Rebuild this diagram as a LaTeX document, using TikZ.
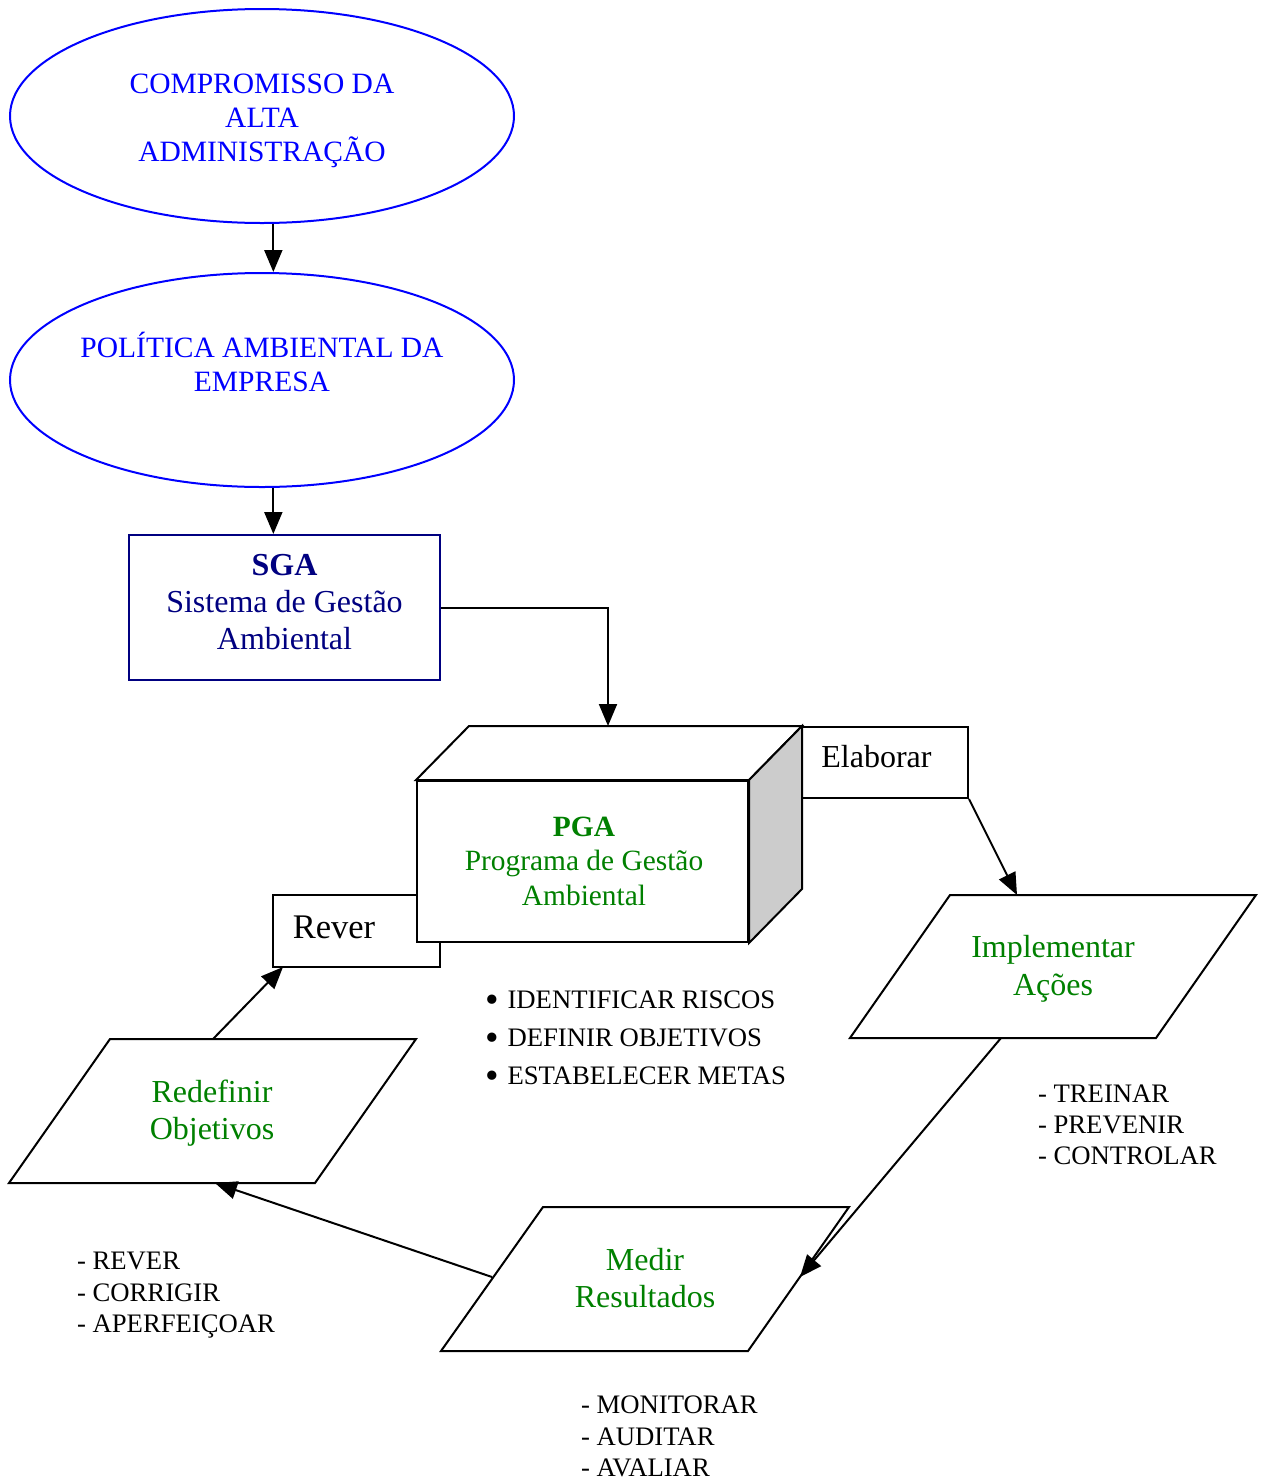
\documentclass[tikz,border=0pt]{standalone}
\usepackage{fontspec}
\setmainfont{Liberation Serif}
\usetikzlibrary{shapes.geometric,arrows.meta,calc}
\definecolor{tblue}{RGB}{0,0,255}
\definecolor{tnavy}{RGB}{0,0,128}
\definecolor{tgreen}{RGB}{0,128,0}
\definecolor{tgray}{RGB}{204,204,204}
\newcommand{\bigbul}{\raisebox{-4pt}{\scalebox{1.45}{•}}}
\begin{document}
\begin{tikzpicture}[x=1pt,y=-1pt,line width=2pt,
  arr/.style={-{Triangle[length=22pt,width=18pt]},line width=2pt},
  ell/.style={ellipse,draw=tblue,line width=2pt,minimum width=504pt,minimum height=214pt,inner sep=0pt},
  bluetxt/.style={text=tblue,font=\fontsize{29.5}{34}\selectfont,anchor=base,inner sep=0pt},
  navytxt/.style={text=tnavy,font=\fontsize{32}{37}\selectfont,anchor=base,inner sep=0pt},
  greentxt/.style={text=tgreen,font=\fontsize{32}{37}\selectfont,anchor=base,inner sep=0pt},
  pgatxt/.style={text=tgreen,font=\fontsize{29.4}{35}\selectfont,anchor=base,inner sep=0pt},
  blacktxt/.style={font=\fontsize{32}{37}\selectfont,anchor=base,inner sep=0pt},
  listtxt/.style={font=\fontsize{26.7}{31}\selectfont,anchor=base west,inner sep=0pt},
  plainbox/.style={draw,line width=2pt,fill=white,inner sep=0pt}]
\useasboundingbox (0,0) rectangle (1262,1481);

% ellipses
\node[ell] (e1) at (262,116) {};
\node[bluetxt] (e1a) at (262,93) {COMPROMISSO DA};
\node[bluetxt] (e1b) at (262,127) {ALTA};
\node[bluetxt] (e1c) at (262,161) {ADMINISTRAÇÃO};

\node[ell] (e2) at (262,380) {};
\node[bluetxt] (e2a) at (262,357) {POLÍTICA AMBIENTAL DA};
\node[bluetxt] (e2b) at (262,391) {EMPRESA};

% SGA box
\node[draw=tnavy,line width=2pt,minimum width=311pt,minimum height=145pt,inner sep=0pt] (sga) at (284.5,607.5) {};
\node[navytxt] (sgaa) at (284.5,575) {\textbf{SGA}};
\node[navytxt] (sgab) at (284.5,612) {Sistema de Gestão};
\node[navytxt] (sgac) at (284.5,649) {Ambiental};

\draw[arr] (e1.-84) -- (e1.-84 |- e2.north);
\draw[arr] (e2.-84) -- (e2.-84 |- sga.north);

% Elaborar and Rever boxes
\node[plainbox,minimum width=167pt,minimum height=71pt] (elab) at (884.5,762.5) {};
\node[blacktxt] (elabt) at (876.5,767) {Elaborar};
\node[plainbox,minimum width=167pt,minimum height=72pt] (rev) at (356.5,931) {};
\node[blacktxt,font=\fontsize{34.5}{37}\selectfont] (revt) at (334,938) {Rever};

% cube
\node[plainbox,minimum width=331pt,minimum height=161pt] (pga) at (582.5,861.5) {};
\draw[fill=white,line join=miter] (pga.north west) -- ++(53,-54) -- ($(pga.north east)+(53,-54)$) -- (pga.north east) -- cycle;
\draw[fill=tgray,line join=miter] (pga.north east) -- ++(53,-54) -- ($(pga.south east)+(53,-54)$) -- (pga.south east) -- cycle;
\node[pgatxt] (pgaa) at (584,836) {\textbf{PGA}};
\node[pgatxt] (pgab) at (584,870) {Programa de Gestão};
\node[pgatxt] (pgac) at (584,905) {Ambiental};
\coordinate (cubetop) at ($(pga.north west)+(192,-54)$);
\draw[arr] (sga.east) -| (cubetop);

% parallelograms
\draw[line join=miter] (950,895) -- (1256,895) -- (1156,1038) -- (850,1038) -- cycle;
\node[greentxt] (impa) at (1053,957) {Implementar};
\node[greentxt] (impb) at (1053,995) {Ações};
\coordinate (imptop) at (1017,895);
\coordinate (impbot) at (1001,1038);

\draw[line join=miter] (110,1039) -- (416,1039) -- (315,1183) -- (9,1183) -- cycle;
\node[greentxt] (reda) at (212,1102) {Redefinir};
\node[greentxt] (redb) at (212,1139) {Objetivos};
\coordinate (redtop) at (213,1039);
\coordinate (redbot) at (215,1183);

\draw[line join=miter] (543,1207) -- (849,1207) -- (748,1351) -- (441,1351) -- cycle;
\node[greentxt] (meda) at (645,1270) {Medir};
\node[greentxt] (medb) at (645,1307) {Resultados};
\coordinate (medright) at (800,1277);
\coordinate (medleft) at (492,1277);

% cycle arrows
\draw[arr] (elab.south east) -- (imptop);
\draw[arr] (impbot) -- (medright);
\draw[arr] (medleft) -- (redbot);
\coordinate (revbot) at (283,967);
\draw[arr] (redtop) -- (revbot);

% bullet list
\node[listtxt] (b1) at (484,1008) {\bigbul\hspace{9pt}IDENTIFICAR RISCOS};
\node[listtxt] (b2) at (484,1046) {\bigbul\hspace{9pt}DEFINIR OBJETIVOS};
\node[listtxt] (b3) at (484,1084) {\bigbul\hspace{9pt}ESTABELECER METAS};

% dash lists
\node[listtxt] (t1) at (1037,1102) {- TREINAR};
\node[listtxt] (t2) at (1037,1133) {- PREVENIR};
\node[listtxt] (t3) at (1037,1164) {- CONTROLAR};

\node[listtxt] (r1) at (76,1269) {- REVER};
\node[listtxt] (r2) at (76,1301) {- CORRIGIR};
\node[listtxt] (r3) at (76,1332) {- APERFEIÇOAR};

\node[listtxt] (m1) at (580,1413) {- MONITORAR};
\node[listtxt] (m2) at (580,1445) {- AUDITAR};
\node[listtxt] (m3) at (580,1476) {- AVALIAR};
\end{tikzpicture}
\end{document}
